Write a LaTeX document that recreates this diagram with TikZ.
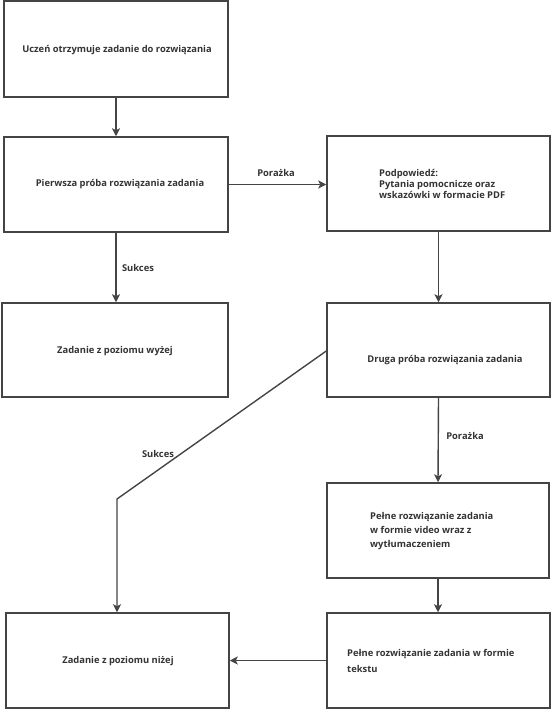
\documentclass[tikz,border=0pt]{standalone}
\usepackage{fontspec}
\setmainfont{Open Sans}
\usetikzlibrary{arrows.meta}
\definecolor{boxline}{HTML}{444444}
\definecolor{conn}{HTML}{454545}
\definecolor{txt}{HTML}{333333}
\begin{document}
\begin{tikzpicture}[x=1bp,y=-1bp,
  box/.style={draw=boxline, line width=1.5bp, rectangle, inner sep=0pt},
  lbl/.style={font=\fontsize{9.4}{12}\selectfont\bfseries, text=txt, inner sep=0pt},
  arr/.style={draw=conn, line width=1.4bp, -{Stealth[length=8bp,width=8bp,inset=2bp]}}]
\useasboundingbox (0,0) rectangle (551,710);
% boxes
\node[box, minimum width=224bp, minimum height=96bp] (A) at (116,49) {};
\node[box, minimum width=224bp, minimum height=95bp] (B) at (116,184.5) {};
\node[box, minimum width=223bp, minimum height=95bp] (C) at (438.5,183.5) {};
\node[box, minimum width=226bp, minimum height=94bp] (D) at (115,350) {};
\node[box, minimum width=223bp, minimum height=94bp] (E) at (438.5,350) {};
\node[box, minimum width=222bp, minimum height=95bp] (F) at (438,530.5) {};
\node[box, minimum width=223bp, minimum height=95bp] (G) at (117.5,660.5) {};
\node[box, minimum width=223bp, minimum height=95bp] (H) at (438.5,660.5) {};
% texts
\node[lbl] (tA) at (117,50) {Uczeń otrzymuje zadanie do rozwiązania};
\node[lbl] (tB) at (120,184) {Pierwsza próba rozwiązania zadania};
\node[lbl, anchor=west, align=left, font=\fontsize{9.4}{11.4}\selectfont\bfseries] (tC) at (379,184) {Podpowiedź:\\Pytania pomocnicze oraz\\wskazówki w formacie PDF};
\node[lbl] (tD) at (115,351) {Zadanie z poziomu wyżej};
\node[lbl] (tE) at (445,360) {Druga próba rozwiązania zadania};
\node[lbl, anchor=west, align=left, font=\fontsize{9.4}{14}\selectfont\bfseries] (tF) at (370,531) {Pełne rozwiązanie zadania\\w formie video wraz z\\wytłumaczeniem};
\node[lbl] (tG) at (118,661) {Zadanie z poziomu niżej};
\node[lbl, anchor=west, align=left, font=\fontsize{9.4}{15.5}\selectfont\bfseries] (tH) at (347,661) {Pełne rozwiązanie zadania w formie\\tekstu};
% connector labels
\node[lbl] (l1) at (276,173) {Porażka};
\node[lbl] (l2) at (138,268) {Sukces};
\node[lbl] (l3) at (158,454) {Sukces};
\node[lbl] (l4) at (465,436) {Porażka};
% connectors
\coordinate (bend) at (117,499);
\draw[arr] (A.south) -- (B.north);
\draw[arr] (B.east) -- (B.east -| C.west);
\draw[arr] (B.south) -- (B.south |- D.north);
\draw[arr] (C.south) -- (E.north);
\draw[arr] (E.south) -- (F.north);
\draw[arr] (F.south) -- (F.south |- H.north);
\draw[arr] (H.west) -- (G.east);
\draw[arr] ([yshift=-1bp]E.west) -- (bend) -- (bend |- G.north);
\end{tikzpicture}
\end{document}
